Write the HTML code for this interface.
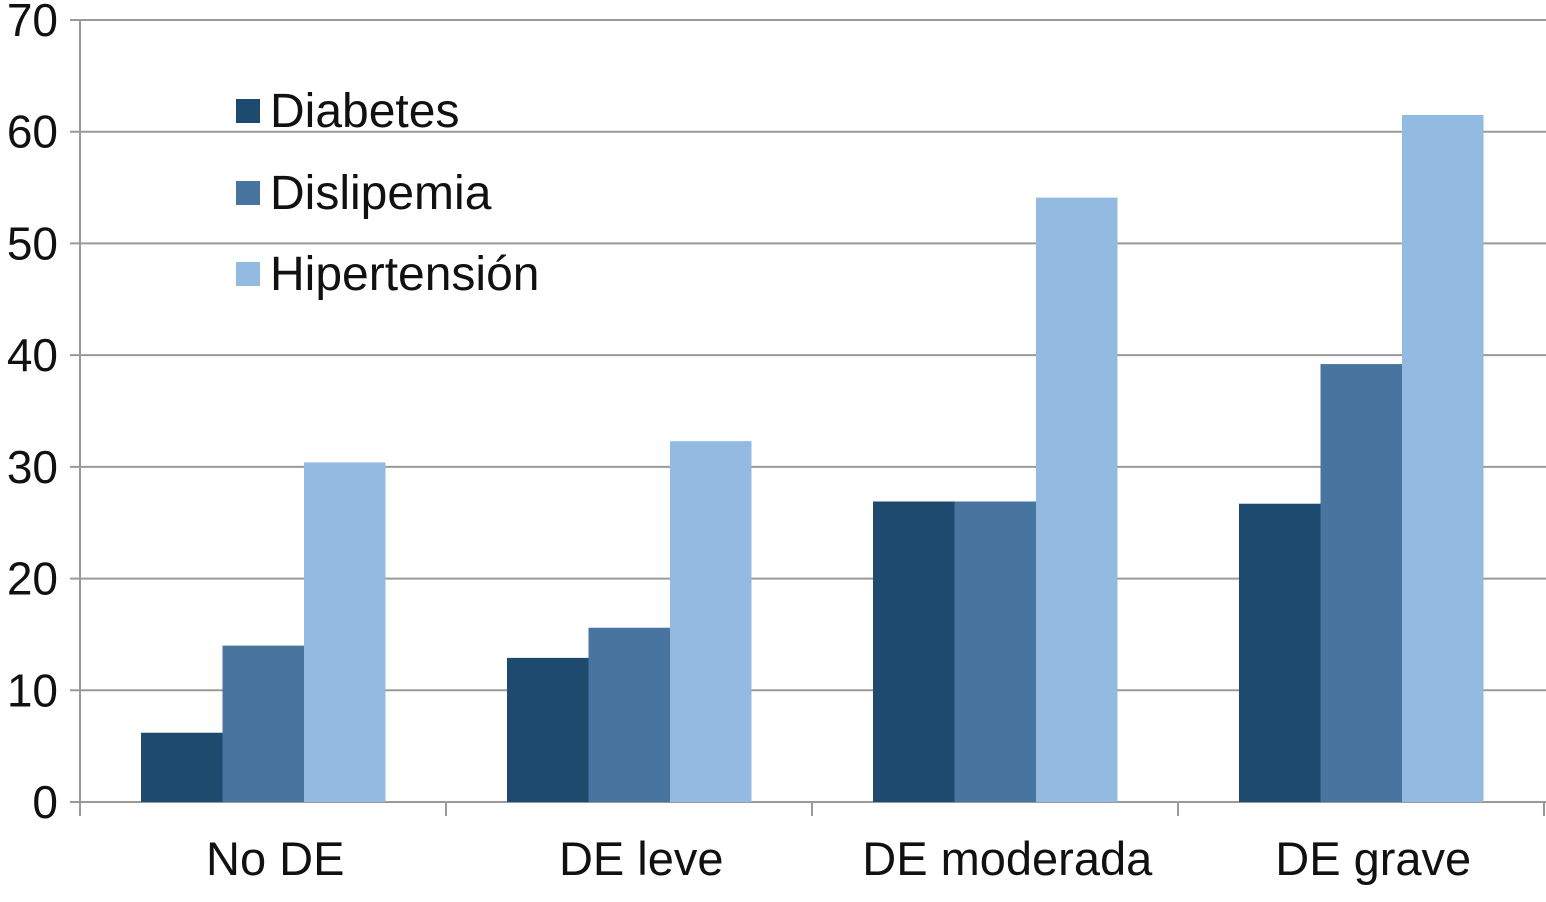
<!DOCTYPE html>
<html><head><meta charset="utf-8"><style>
body{margin:0;background:#fff;}
svg text{font-family:"Liberation Sans",Arial,sans-serif;fill:#111;}
</style></head><body>
<svg id="chart" width="1546" height="897"></svg>
<script>
const categories=["No DE","DE leve","DE moderada","DE grave"];
const seriesNames=["Diabetes","Dislipemia","Hipertensión"];
const diabetes=[6.2,12.9,26.9,26.7];
const dislipemia=[14.0,15.6,26.9,39.2];
const hipertension=[30.4,32.3,54.1,61.5];
const yTicks=[0,10,20,30,40,50,60,70];
const colors=["#1e4a6f","#4874a0","#93bbe1"];
const NS="http://www.w3.org/2000/svg";
const svg=document.getElementById('chart');
const x0=80,x1=1544,y0=802,yTop=20;
const y=v=>y0-(v/70)*(y0-yTop);
const bw=(x1-x0)/categories.length;
function mk(t,a,p){const e=document.createElementNS(NS,t);for(const k in a)e.setAttribute(k,a[k]);(p||svg).appendChild(e);return e;}
yTicks.forEach(t=>{
  const g=mk('line',{x1:70,x2:1546,y1:y(t),y2:y(t),stroke:'#9a9a9a','stroke-width':2});
  
  
  const l=mk('text',{x:58,y:y(t)+16,'font-size':46,'text-anchor':'end'});
  l.textContent=t;
  
  
});
const ya=mk('line',{x1:x0,x2:x0,y1:yTop,y2:y0,stroke:'#9a9a9a','stroke-width':2});


for(let i=0;i<=categories.length;i++){
  const tk=mk('line',{x1:x0+i*bw,x2:x0+i*bw,y1:y0,y2:y0+14,stroke:'#9a9a9a','stroke-width':2});
  
  
}
const all=[diabetes,dislipemia,hipertension];
const barW=81.5,off=61;
categories.forEach((c,i)=>{
  all.forEach((s,j)=>{
    const bx=x0+i*bw+off+j*barW;
    const r=mk('rect',{x:bx,y:y(s[i]),width:barW,height:y0-y(s[i]),fill:colors[j]});
    
    
  });
  const t=mk('text',{x:x0+i*bw+off+1.5*barW+12,y:875,'font-size':47,'text-anchor':'middle'});
  t.textContent=c;
  
  
});
const legY=[111,193,274];
seriesNames.forEach((n,j)=>{
  const r=mk('rect',{x:236,y:legY[j]-12,width:24,height:24,fill:colors[j]});
  
  
  const t=mk('text',{x:270,y:legY[j]+16,'font-size':48});
  t.textContent=n;
  
  
});
</script>
</body></html>
